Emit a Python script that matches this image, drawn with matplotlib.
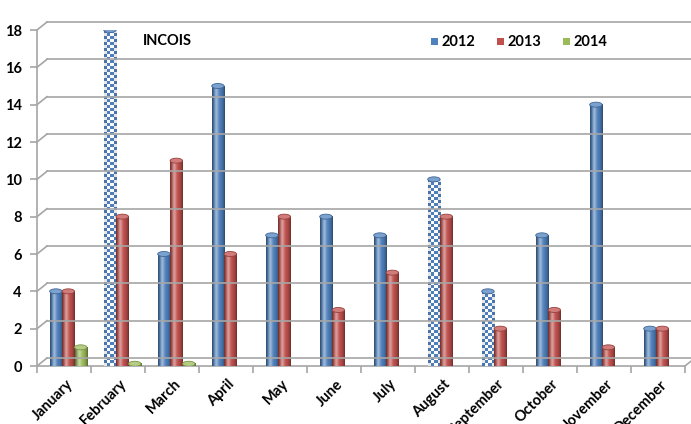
import numpy as np
import matplotlib.pyplot as plt
from matplotlib.patches import Ellipse
from matplotlib.lines import Line2D
from matplotlib.colors import to_rgb
from matplotlib.transforms import IdentityTransform

months = ['January', 'February', 'March', 'April', 'May', 'June', 'July',
          'August', 'September', 'October', 'November', 'December']
v2012 = [4, 18, 6, 15, 7, 8, 7, 10, 4, 7, 14, 2]
v2013 = [4, 8, 11, 6, 8, 3, 5, 8, 2, 3, 1, 2]
v2014 = [1, 0, 0, np.nan, np.nan, np.nan, np.nan, np.nan, np.nan, np.nan, np.nan, np.nan]
# 2012 bars drawn with the checkerboard fill in the original
checker2012 = [False, True, False, False, False, False, False, True, True, False, False, False]
yticks = [0, 2, 4, 6, 8, 10, 12, 14, 16, 18]

c12, c13, c14 = '#4F81BD', '#C0504D', '#9BBB59'
FONT = 'Lato'

W, H = 691, 424
fig = plt.figure(figsize=(W / 100, H / 100), dpi=100)
ax = fig.add_axes([37 / W, 1 - 366 / H, (685 - 37) / W, (366 - 30) / H])
ax.set_xlim(-0.5, 11.5)
ax.set_ylim(0, 18)
ax.patch.set_alpha(0)

px_per_unit = (366 - 30) / 18.0
bw = 0.23
offsets = [-0.15, 0.08, 0.31]


def cylinder(x0, h, color, checker=False):
    t = np.linspace(0, 1, 40)
    base = np.array(to_rgb(color))
    f = 0.55 + 0.45 * np.sin(np.pi * t) ** 0.7
    hl = 0.45 * np.exp(-((t - 0.33) / 0.16) ** 2)
    if checker:
        nrow = max(int(round(h * px_per_unit / 3.0)), 1)
        ii, jj = np.meshgrid(np.arange(4), np.arange(nrow))
        mask = ((ii + jj) % 2 == 0).astype(float)
        img = np.ones((nrow, 4, 3))
        img[mask == 1] = base
        img = img * (0.85 + 0.15 * np.sin(np.pi * (np.arange(4) + 0.5) / 4))[None, :, None]
        ax.imshow(np.clip(img, 0, 1), extent=(x0, x0 + bw, 0, h), aspect='auto',
                  interpolation='nearest', zorder=3)
    else:
        row = base[None, :] * f[:, None]
        row = row + (1 - row) * hl[:, None]
        img = np.clip(row[None, :, :], 0, 1)
        ax.imshow(img, extent=(x0, x0 + bw, 0, h), aspect='auto',
                  interpolation='bilinear', zorder=3)
    top = base + (1 - base) * 0.25
    ax.add_patch(Ellipse((x0 + bw / 2, h), bw, 5.0 / px_per_unit, facecolor=top,
                         edgecolor=base * 0.8, lw=0.6, zorder=4))


x = np.arange(len(months))
for series, color, off in [(v2012, c12, offsets[0]), (v2013, c13, offsets[1]), (v2014, c14, offsets[2])]:
    for i, v in enumerate(series):
        if np.isnan(v):
            continue
        h = max(v, 0.12)
        chk = checker2012[i] if color == c12 else False
        cylinder(x[i] + off - bw / 2, h, color, chk)

ax.set_xlim(-0.5, 11.5)
ax.set_ylim(0, 18)

# 3D-looking back wall gridlines
fig.canvas.draw()
dx, dy = 10, 8
for v in yticks:
    xa, ya = ax.transData.transform((-0.5, v))
    fig.add_artist(Line2D([xa, xa + dx], [ya, ya + dy], color='#a6a6a6', lw=1.2,
                          transform=IdentityTransform(), zorder=1))
    fig.add_artist(Line2D([xa + dx, W], [ya + dy, ya + dy], color='#a6a6a6', lw=1.2,
                          transform=IdentityTransform(), zorder=1))
xr, yr = ax.transData.transform((11.5, 0))
fig.add_artist(Line2D([xr, xr + dx], [yr, yr + dy], color='#a6a6a6', lw=1.2,
                      transform=IdentityTransform(), zorder=1))

for s in ['top', 'right']:
    ax.spines[s].set_visible(False)
for s in ['left', 'bottom']:
    ax.spines[s].set_color('#a6a6a6')
    ax.spines[s].set_linewidth(1.2)

ax.set_yticks(yticks)
ax.set_yticklabels([str(v) for v in yticks], fontsize=10.5, fontweight='bold', family=FONT)
ax.tick_params(axis='y', length=5, color='#a6a6a6', width=1.2, pad=6)

ax.set_xticks(x)
ax.set_xticklabels([])
ax.set_xticks(np.arange(-0.5, 12, 1), minor=True)
ax.tick_params(axis='x', which='major', length=0)
ax.tick_params(axis='x', which='minor', length=5, color='#a6a6a6', width=1.2)
for i, m in enumerate(months):
    ax.text(i + 0.12, -0.85, m, rotation=45, ha='right', va='center', rotation_mode='anchor',
            fontsize=10.5, fontweight='bold', family=FONT, clip_on=False)

fig.text(143 / W, 1 - 41 / H, 'INCOIS', fontsize=10.5, fontweight='bold', family=FONT,
         va='center', ha='left')

for lx, lab, col in [(431, '2012', c12), (497, '2013', c13), (563, '2014', c14)]:
    fig.patches.append(plt.Rectangle(((lx) / W, 1 - 45 / H), 7 / W, 7 / H, facecolor=col,
                                     edgecolor='none', transform=fig.transFigure, figure=fig))
    fig.text((lx + 11) / W, 1 - 41.5 / H, lab, fontsize=10.5, fontweight='bold', family=FONT,
             va='center', ha='left')

fig.savefig('out.png', dpi=100)
